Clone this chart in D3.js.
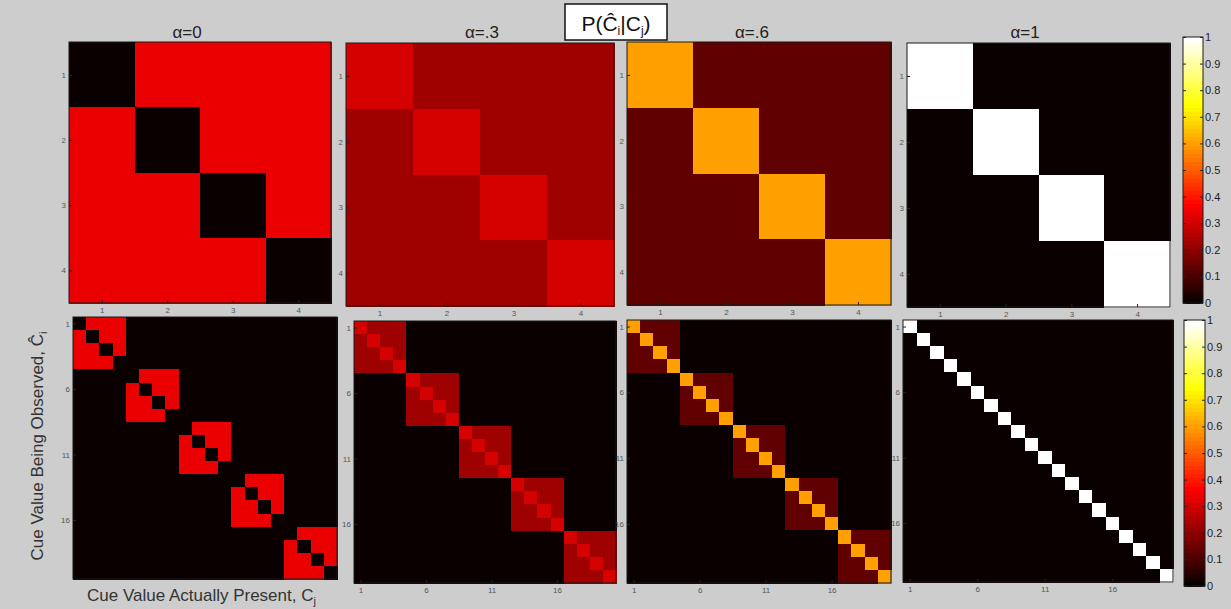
<!DOCTYPE html>
<html>
<head>
<meta charset="utf-8">
<script src="https://cdn.jsdelivr.net/npm/d3@7"></script>
<style>
  html, body { margin: 0; padding: 0; background: #cdcdcd; }
  svg { display: block; font-family: "Liberation Sans", Arial, sans-serif; }
</style>
</head>
<body>
<svg id="fig" width="1231" height="609"></svg>
<script>
// Confusion probabilities P(Ĉi | Cj) for four noise levels α (rows: observed, cols: present)
const alphaLabels = ["α=0", "α=.3", "α=.6", "α=1"];
const probAlpha0  = [[0, .333, .333, .333], [.333, 0, .333, .333], [.333, .333, 0, .333], [.333, .333, .333, 0]];
const probAlpha03 = [[.3, .233, .233, .233], [.233, .3, .233, .233], [.233, .233, .3, .233], [.233, .233, .233, .3]];
const probAlpha06 = [[.6, .133, .133, .133], [.133, .6, .133, .133], [.133, .133, .6, .133], [.133, .133, .133, .6]];
const probAlpha1  = [[1, 0, 0, 0], [0, 1, 0, 0], [0, 0, 1, 0], [0, 0, 0, 1]];
const probMatrices = [probAlpha0, probAlpha03, probAlpha06, probAlpha1];

// Second row: five independent cue dimensions, each with the same 4x4 confusion block
const blockCount = 5;
const topTicks = [1, 2, 3, 4];
const bottomTicks = [1, 6, 11, 16];
const colorbarTicks = [0, 0.1, 0.2, 0.3, 0.4, 0.5, 0.6, 0.7, 0.8, 0.9, 1];

// Panel frames [x0, x1, y0, y1]
const topFrames = [[69, 331, 42, 303], [346, 614, 43, 306], [627, 891, 42, 305], [907, 1170, 43, 307]];
const bottomFrames = [[73, 337, 317, 579], [354, 616, 321, 583], [627, 891, 320, 583], [903, 1173, 320, 582]];
const colorbarFrames = [[1183, 1203, 37, 303], [1184, 1205, 320, 586]];
const titleX = [187, 482, 752, 1025];

// MATLAB-style hot(64) colormap
const m = 64, n = 24;
const hot64 = d3.range(1, m + 1).map(k => {
  const r = Math.min(1, k / n);
  const g = Math.max(0, Math.min(1, (k - n) / n));
  const b = Math.max(0, (k - 2 * n) / (m - 2 * n));
  return d3.rgb(r * 255, g * 255, b * 255).formatHex();
});
const color = d3.scaleQuantize().domain([0, 1]).range(hot64);

function blockDiagonal(mat, count) {
  const size = mat.length * count;
  return d3.range(size).map(i => d3.range(size).map(j => {
    const bi = Math.floor(i / mat.length), bj = Math.floor(j / mat.length);
    return bi === bj ? mat[i % mat.length][j % mat.length] : 0;
  }));
}

const svg = d3.select("#fig");

function drawMatrix(mat, frame, ticks, showXTicks) {
  const [x0, x1, y0, y1] = frame;
  const idx = d3.range(1, mat.length + 1);
  const x = d3.scaleBand().domain(idx).range([x0, x1]);
  const y = d3.scaleBand().domain(idx).range([y0, y1]);
  const g = svg.append("g");
  const cells = [];
  mat.forEach((row, i) => row.forEach((v, j) => cells.push({ r: i + 1, c: j + 1, v })));
  g.selectAll("rect.cell").data(cells).join("rect")
    .attr("class", "cell")
    .attr("x", d => x(d.c)).attr("y", d => y(d.r))
    .attr("width", x.bandwidth() + 0.5).attr("height", y.bandwidth() + 0.5)
    .attr("fill", d => color(d.v))
    .attr("shape-rendering", "crispEdges");
  g.append("rect")
    .attr("x", x0).attr("y", y0).attr("width", x1 - x0).attr("height", y1 - y0)
    .attr("fill", "none").attr("stroke", "#1a1a1a").attr("stroke-width", 1);

  const styleAxis = sel => {
    sel.select(".domain").remove();
    sel.selectAll(".tick line").attr("stroke", "#222");
    sel.selectAll(".tick text").attr("fill", "#555").attr("font-size", 8)
      .attr("font-family", "Liberation Sans, Arial, sans-serif");
  };
  const yAxis = d3.axisLeft(d3.scalePoint().domain(idx).range([y0 + y.bandwidth() / 2, y1 - y.bandwidth() / 2]))
    .tickValues(ticks).tickSize(-3).tickPadding(3);
  g.append("g").attr("transform", `translate(${x0},0)`).call(yAxis).call(styleAxis);
  if (showXTicks) {
    const xAxis = d3.axisBottom(d3.scalePoint().domain(idx).range([x0 + x.bandwidth() / 2, x1 - x.bandwidth() / 2]))
      .tickValues(ticks).tickSize(-3).tickPadding(4);
    g.append("g").attr("transform", `translate(0,${y1})`).call(xAxis).call(styleAxis);
  }
}

probMatrices.forEach((mat, k) => {
  drawMatrix(mat, topFrames[k], topTicks, true);
  drawMatrix(blockDiagonal(mat, blockCount), bottomFrames[k], bottomTicks, k > 0);
  svg.append("text")
    .attr("x", titleX[k]).attr("y", 38)
    .attr("text-anchor", "middle")
    .attr("font-size", 17).attr("fill", "#222")
    .text(alphaLabels[k]);
});

// Colorbars
colorbarFrames.forEach(([x0, x1, y0, y1]) => {
  const cy = d3.scaleLinear().domain([0, 1]).range([y1, y0]);
  const g = svg.append("g");
  g.selectAll("rect.sw").data(hot64).join("rect")
    .attr("class", "sw")
    .attr("x", x0)
    .attr("y", (c, i) => cy((i + 1) / m))
    .attr("width", x1 - x0)
    .attr("height", (c, i) => cy(i / m) - cy((i + 1) / m) + 0.5)
    .attr("fill", c => c)
    .attr("shape-rendering", "crispEdges");
  g.append("rect")
    .attr("x", x0).attr("y", y0).attr("width", x1 - x0).attr("height", y1 - y0)
    .attr("fill", "none").attr("stroke", "#1a1a1a").attr("stroke-width", 1);
  const axR = d3.axisRight(cy).tickValues(colorbarTicks).tickSize(-3).tickPadding(2)
    .tickFormat(d => d === 0 || d === 1 ? d3.format("d")(d) : d3.format(".1f")(d));
  g.append("g").attr("transform", `translate(${x1},0)`).call(axR)
    .call(s => {
      s.select(".domain").remove();
      s.selectAll(".tick line").attr("stroke", "#222");
      s.selectAll(".tick text").attr("fill", "#222").attr("font-size", 11)
        .attr("font-family", "Liberation Sans, Arial, sans-serif");
    });
  const axL = d3.axisLeft(cy).tickValues(colorbarTicks).tickSize(-3).tickFormat("");
  g.append("g").attr("transform", `translate(${x0},0)`).call(axL)
    .call(s => { s.select(".domain").remove(); s.selectAll(".tick line").attr("stroke", "#222"); });
});

// Figure title box
const tb = svg.append("g");
tb.append("rect").attr("x", 565).attr("y", 4).attr("width", 102).attr("height", 36)
  .attr("fill", "#fff").attr("stroke", "#111").attr("stroke-width", 1.5);
const tt = tb.append("text").attr("x", 616).attr("y", 31).attr("text-anchor", "middle")
  .attr("font-size", 21).attr("fill", "#111");
tt.append("tspan").text("P(Ĉ");
tt.append("tspan").attr("font-size", 12).attr("dy", 4).text("i");
tt.append("tspan").attr("dy", -4).text("|C");
tt.append("tspan").attr("font-size", 12).attr("dy", 4).text("j");
tt.append("tspan").attr("dy", -4).text(")");

// Axis labels
const yl = svg.append("text")
  .attr("transform", "translate(43,446) rotate(-90)")
  .attr("text-anchor", "middle").attr("font-size", 17).attr("fill", "#333");
yl.append("tspan").text("Cue Value Being Observed, Ĉ");
yl.append("tspan").attr("font-size", 11).attr("dy", 4).text("i");

const xl = svg.append("text")
  .attr("x", 87).attr("y", 601)
  .attr("font-size", 17).attr("fill", "#333");
xl.append("tspan").text("Cue Value Actually Present, C");
xl.append("tspan").attr("font-size", 11).attr("dy", 4).text("j");
</script>
</body>
</html>
